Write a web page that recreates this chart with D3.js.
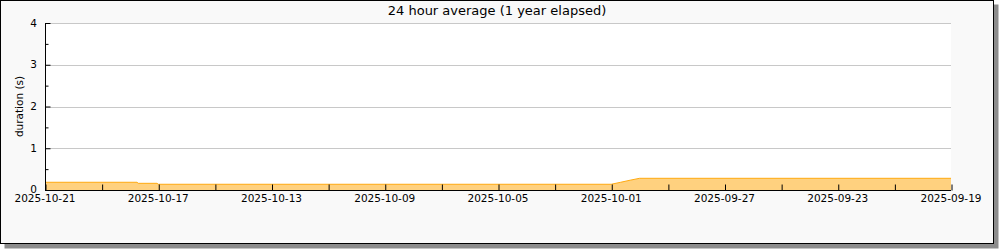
<!DOCTYPE html>
<html>
<head>
<meta charset="utf-8">
<script src="https://cdn.jsdelivr.net/npm/d3@7"></script>
<style>
  html, body { margin: 0; padding: 0; background: #ffffff; }
  svg { display: block; font-family: "DejaVu Sans", sans-serif; }
</style>
</head>
<body>
<div class="chart"></div>
<script>
// 24 hour average, newest date on the left
const times = [
  '2025-09-19T00:00', '2025-09-30T00:00', '2025-09-30T08:00', '2025-09-30T16:00',
  '2025-10-01T00:00', '2025-10-17T00:00', '2025-10-17T01:00', '2025-10-17T17:00',
  '2025-10-17T18:00', '2025-10-21T00:00'
];
const durations = [0.28, 0.28, 0.235, 0.185, 0.137, 0.137, 0.16, 0.16, 0.185, 0.185];
const yTicks = [0, 1, 2, 3, 4];
const title = '24 hour average (1 year elapsed)';
const yLabel = 'duration (s)';

const parse = d3.timeParse('%Y-%m-%dT%H:%M');
const dataset = times.map((t, i) => ({ x: parse(t), y: durations[i] }));

const width = 1000;
const height = 250;
const margin = { top: 23, right: 49, bottom: 60, left: 45 };

const svgelement = d3.select('.chart')
  .append('svg')
  .attr('width', width)
  .attr('height', height);

// frame with drop shadow
svgelement.append('rect')
  .attr('x', 4.5).attr('y', 4.5)
  .attr('width', 994).attr('height', 244)
  .attr('fill', '#8c8c8c');
svgelement.append('rect')
  .attr('x', 0.5).attr('y', 0.5)
  .attr('width', 993).attr('height', 243)
  .attr('fill', '#f9f9f9')
  .attr('stroke', '#000');

const plotW = width - margin.left - margin.right;
const plotH = 167;

const xscale = d3.scaleTime()
  .domain([parse('2025-10-21T00:00'), parse('2025-09-19T00:00')])
  .range([0, plotW]);
const yscale = d3.scaleLinear()
  .domain([0, 4])
  .range([plotH, 0]);

const plot = svgelement.append('g')
  .attr('transform', 'translate(' + margin.left + ',' + margin.top + ')');

plot.append('rect')
  .attr('width', plotW)
  .attr('height', plotH)
  .attr('fill', '#fff');

// grid lines
plot.selectAll('.grid')
  .data(yTicks.slice(1))
  .enter()
  .append('line')
  .attr('x1', 0).attr('x2', plotW)
  .attr('y1', d => Math.round(yscale(d)) + 0.5)
  .attr('y2', d => Math.round(yscale(d)) + 0.5)
  .attr('stroke', '#c8c8c8');

const area = d3.area()
  .x(d => xscale(d.x))
  .y0(plotH)
  .y1(d => yscale(d.y));
const line = d3.line()
  .x(d => xscale(d.x))
  .y(d => yscale(d.y));

plot.append('path')
  .datum(dataset)
  .attr('fill', '#ffd17f')
  .attr('d', area);
plot.append('path')
  .datum(dataset)
  .attr('fill', 'none')
  .attr('stroke', '#ffaa11')
  .attr('stroke-width', 1)
  .attr('d', line);

// y axis: ticks point into the plot
const y_axis = d3.axisRight(yscale)
  .tickValues(yTicks)
  .tickSize(5)
  .tickFormat('');
const y_minor = d3.axisRight(yscale)
  .tickValues([0.5, 1.5, 2.5, 3.5])
  .tickSize(3)
  .tickFormat('');
plot.append('g').attr('class', 'yaxis').attr('transform', 'translate(0.5,0)').call(y_axis);
plot.append('g').attr('class', 'yaxis').attr('transform', 'translate(0.5,0)').call(y_minor);
plot.selectAll('.yaxis .domain').attr('d', 'M0,0V' + plotH);

plot.selectAll('.ylab')
  .data(yTicks)
  .enter()
  .append('text')
  .attr('x', -8)
  .attr('y', d => yscale(d) - (d === 0 ? 1 : 0))
  .attr('dy', '0.35em')
  .attr('text-anchor', 'end')
  .attr('font-size', 10.5)
  .attr('fill', '#000')
  .text(d => d);

// x axis: ticks every 2 days, labels every 4 days
const xTickDates = d3.timeDay.range(parse('2025-09-19T00:00'), parse('2025-10-21T01:00'), 2);
const x_axis = d3.axisTop(xscale)
  .tickValues(xTickDates)
  .tickSize(6)
  .tickFormat('');
plot.append('g')
  .attr('class', 'xaxis')
  .attr('transform', 'translate(0,' + (plotH + 0.5) + ')')
  .call(x_axis);
plot.selectAll('.xaxis .domain').attr('d', 'M0,0H' + plotW);
plot.selectAll('.xaxis .tick line').attr('transform', 'translate(0.5,0)');

const labelDates = xTickDates.filter((d, i) => i % 2 === 0);
const fmt = d3.timeFormat('%Y-%m-%d');
plot.selectAll('.xlab')
  .data(labelDates)
  .enter()
  .append('text')
  .attr('x', d => xscale(d))
  .attr('y', plotH + 12)
  .attr('text-anchor', 'middle')
  .attr('font-size', 10.5)
  .attr('fill', '#000')
  .text(d => fmt(d));

svgelement.append('text')
  .attr('x', 497)
  .attr('y', 15)
  .attr('text-anchor', 'middle')
  .attr('font-size', 13)
  .attr('fill', '#000')
  .text(title);

svgelement.append('text')
  .attr('transform', 'translate(23,' + (margin.top + plotH / 2) + ') rotate(-90)')
  .attr('text-anchor', 'middle')
  .attr('font-size', 10.5)
  .attr('fill', '#000')
  .text(yLabel);
</script>
</body>
</html>
